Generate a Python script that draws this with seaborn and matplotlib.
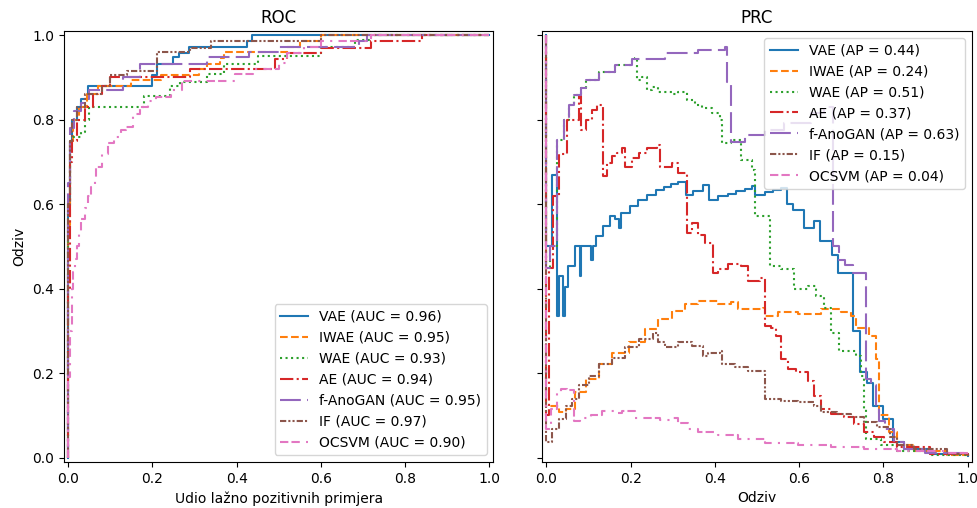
import matplotlib
matplotlib.use("Agg")
import matplotlib.pyplot as plt
import seaborn as sns
import pandas as pd

models = ["VAE", "IWAE", "WAE", "AE", "f-AnoGAN", "IF", "OCSVM"]
auc_values = [0.96, 0.95, 0.93, 0.94, 0.95, 0.97, 0.90]
ap_values = [0.44, 0.24, 0.51, 0.37, 0.63, 0.15, 0.04]

# ---------------- ROC (fpr, tpr) step breakpoints ----------------
roc_fpr_vae = [0.0, 0.0, 0.004, 0.01, 0.02, 0.03, 0.047, 0.2, 0.212, 0.248, 0.263, 0.287, 0.424, 0.436, 1.0]
roc_tpr_vae = [0.0, 0.60, 0.75, 0.80, 0.83, 0.85, 0.88, 0.906, 0.933, 0.949, 0.959, 0.972, 0.986, 1.0, 1.0]

roc_fpr_iwae = [0.0, 0.0, 0.005, 0.012, 0.025, 0.045, 0.07, 0.15, 0.22, 0.31, 0.33, 0.36, 0.37, 0.52, 0.55, 0.6, 1.0]
roc_tpr_iwae = [0.0, 0.55, 0.75, 0.80, 0.83, 0.86, 0.88, 0.894, 0.906, 0.92, 0.933, 0.946, 0.96, 0.972, 0.986, 1.0, 1.0]

roc_fpr_wae = [0.0, 0.0, 0.005, 0.01, 0.03, 0.04, 0.05, 0.18, 0.243, 0.265, 0.33, 0.37, 0.45, 0.6, 0.68, 0.72, 1.0]
roc_tpr_wae = [0.0, 0.60, 0.74, 0.76, 0.77, 0.80, 0.83, 0.856, 0.88, 0.89, 0.909, 0.933, 0.95, 0.972, 0.988, 1.0, 1.0]

roc_fpr_ae = [0.0, 0.0, 0.005, 0.01, 0.02, 0.04, 0.06, 0.08, 0.1, 0.29, 0.49, 0.52, 0.6, 0.72, 0.84, 1.0]
roc_tpr_ae = [0.0, 0.40, 0.70, 0.75, 0.80, 0.83, 0.86, 0.88, 0.90, 0.92, 0.944, 0.957, 0.97, 0.986, 1.0, 1.0]

roc_fpr_fano = [0.0, 0.0, 0.004, 0.015, 0.03, 0.05, 0.13, 0.17, 0.33, 0.43, 0.5, 0.69, 0.71, 1.0]
roc_tpr_fano = [0.0, 0.65, 0.78, 0.82, 0.84, 0.87, 0.90, 0.933, 0.949, 0.96, 0.972, 0.986, 1.0, 1.0]

roc_fpr_if = [0.0, 0.0, 0.004, 0.01, 0.02, 0.04, 0.08, 0.1, 0.14, 0.21, 0.29, 0.34, 0.6, 1.0]
roc_tpr_if = [0.0, 0.60, 0.75, 0.80, 0.83, 0.86, 0.88, 0.906, 0.915, 0.96, 0.97, 0.986, 1.0, 1.0]

roc_fpr_ocsvm = [0.0, 0.0, 0.004, 0.008, 0.012, 0.016, 0.02, 0.025, 0.031, 0.039, 0.047, 0.055, 0.063, 0.067,
                 0.08, 0.094, 0.11, 0.125, 0.137, 0.153, 0.17, 0.19, 0.208, 0.244, 0.271, 0.397, 0.44, 0.5,
                 0.52, 0.56, 0.6, 0.72, 1.0]
roc_tpr_ocsvm = [0.0, 0.19, 0.30, 0.40, 0.44, 0.47, 0.50, 0.53, 0.564, 0.59, 0.62, 0.64, 0.66, 0.689,
                 0.72, 0.744, 0.76, 0.775, 0.783, 0.813, 0.83, 0.845, 0.854, 0.87, 0.892, 0.908, 0.921, 0.935,
                 0.957, 0.972, 0.986, 1.0, 1.0]

# ---------------- PRC (recall, precision) step breakpoints ----------------
pr_rec_vae = [0.0, 0.0, 0.014, 0.026, 0.030, 0.039, 0.043, 0.052, 0.068, 0.080, 0.083, 0.107, 0.110, 0.117,
              0.134, 0.150, 0.162, 0.173, 0.178, 0.199, 0.217, 0.239, 0.260, 0.280, 0.296, 0.313, 0.331,
              0.349, 0.372, 0.386, 0.408, 0.432, 0.451, 0.471, 0.487, 0.496, 0.518, 0.538, 0.556, 0.572,
              0.585, 0.611, 0.635, 0.650, 0.677, 0.693, 0.729, 0.745, 0.761, 0.776, 0.800, 0.824, 0.849,
              0.912, 1.0]
pr_prec_vae = [1.0, 0.50, 0.67, 0.336, 0.430, 0.336, 0.403, 0.454, 0.501, 0.430, 0.501, 0.469, 0.501, 0.524,
               0.548, 0.573, 0.564, 0.544, 0.579, 0.595, 0.609, 0.623, 0.634, 0.641, 0.649, 0.652, 0.623,
               0.631, 0.646, 0.609, 0.620, 0.625, 0.631, 0.636, 0.642, 0.623, 0.628, 0.634, 0.638, 0.601,
               0.586, 0.544, 0.560, 0.513, 0.481, 0.437, 0.300, 0.202, 0.178, 0.123, 0.092, 0.037, 0.021,
               0.009, 0.005]

pr_rec_iwae = [0.0, 0.0, 0.002, 0.030, 0.046, 0.069, 0.093, 0.124, 0.156, 0.195, 0.235, 0.266, 0.298, 0.329,
               0.361, 0.408, 0.439, 0.455, 0.514, 0.518, 0.550, 0.597, 0.652, 0.699, 0.723, 0.735, 0.766,
               0.782, 0.790, 0.813, 0.833, 0.873, 0.951, 1.0]
pr_prec_iwae = [1.0, 0.123, 0.123, 0.108, 0.116, 0.155, 0.186, 0.222, 0.249, 0.273, 0.304, 0.328, 0.347, 0.363,
                0.371, 0.363, 0.369, 0.351, 0.355, 0.336, 0.346, 0.340, 0.351, 0.346, 0.336, 0.308, 0.289,
                0.233, 0.100, 0.061, 0.029, 0.017, 0.007, 0.005]

pr_rec_wae = [0.0, 0.0, 0.008, 0.026, 0.042, 0.054, 0.065, 0.081, 0.093, 0.124, 0.164, 0.203, 0.211, 0.215,
              0.227, 0.239, 0.250, 0.266, 0.298, 0.313, 0.333, 0.353, 0.369, 0.392, 0.412, 0.416, 0.439,
              0.463, 0.487, 0.495, 0.530, 0.558, 0.589, 0.621, 0.640, 0.660, 0.676, 0.695, 0.735, 0.747,
              0.754, 0.758, 0.794, 0.833, 0.912, 1.0]
pr_prec_wae = [1.0, 0.45, 0.50, 0.752, 0.800, 0.835, 0.858, 0.874, 0.894, 0.914, 0.929, 0.943, 0.945, 0.894,
               0.902, 0.870, 0.878, 0.866, 0.862, 0.866, 0.847, 0.835, 0.827, 0.815, 0.800, 0.745, 0.752,
               0.705, 0.682, 0.572, 0.454, 0.446, 0.399, 0.406, 0.383, 0.355, 0.296, 0.253, 0.241, 0.194,
               0.116, 0.045, 0.029, 0.017, 0.007, 0.005]

pr_rec_ae = [0.0, 0.0, 0.005, 0.015, 0.03, 0.05, 0.077, 0.081, 0.093, 0.109, 0.120, 0.134, 0.144, 0.156, 0.168,
             0.180, 0.187, 0.203, 0.219, 0.239, 0.262, 0.270, 0.298, 0.313, 0.333, 0.345, 0.361, 0.376, 0.396,
             0.408, 0.432, 0.463, 0.479, 0.506, 0.518, 0.534, 0.546, 0.558, 0.573, 0.593, 0.621, 0.636,
             0.652, 0.676, 0.707, 0.731, 0.754, 0.778, 0.802, 0.833, 0.912, 1.0]
pr_prec_ae = [1.0, 0.10, 0.45, 0.62, 0.72, 0.80, 0.855, 0.776, 0.800, 0.823, 0.835, 0.666, 0.697, 0.713, 0.721,
              0.733, 0.689, 0.709, 0.721, 0.733, 0.741, 0.689, 0.697, 0.674, 0.532, 0.556, 0.528, 0.509, 0.438,
              0.446, 0.458, 0.454, 0.418, 0.426, 0.312, 0.308, 0.289, 0.233, 0.210, 0.202, 0.182, 0.147,
              0.116, 0.104, 0.096, 0.080, 0.061, 0.049, 0.037, 0.025, 0.009, 0.005]

pr_rec_fano = [0.0, 0.0, 0.008, 0.026, 0.042, 0.054, 0.065, 0.081, 0.093, 0.124, 0.164, 0.203, 0.282, 0.361,
               0.425, 0.428, 0.438, 0.471, 0.518, 0.565, 0.628, 0.66, 0.68, 0.695, 0.71, 0.727, 0.758, 0.770,
               0.782, 0.790, 0.805, 0.825, 0.85, 0.9, 1.0]
pr_prec_fano = [1.0, 0.45, 0.50, 0.752, 0.800, 0.835, 0.858, 0.874, 0.894, 0.914, 0.929, 0.943, 0.957, 0.965,
                0.971, 0.890, 0.748, 0.764, 0.776, 0.792, 0.815, 0.83, 0.501, 0.469, 0.455, 0.438, 0.186,
                0.171, 0.123, 0.087, 0.069, 0.037, 0.020, 0.012, 0.005]

pr_rec_if = [0.0, 0.0, 0.002, 0.014, 0.030, 0.046, 0.061, 0.077, 0.101, 0.124, 0.156, 0.187, 0.219, 0.254,
             0.266, 0.282, 0.313, 0.345, 0.372, 0.384, 0.412, 0.416, 0.447, 0.479, 0.518, 0.558, 0.597,
             0.636, 0.652, 0.691, 0.723, 0.754, 0.786, 0.817, 0.833, 0.873, 0.951, 1.0]
pr_prec_if = [1.0, 0.037, 0.037, 0.068, 0.092, 0.123, 0.139, 0.171, 0.194, 0.222, 0.237, 0.261, 0.281, 0.296,
              0.273, 0.261, 0.273, 0.265, 0.241, 0.249, 0.253, 0.222, 0.214, 0.206, 0.139, 0.135, 0.131,
              0.123, 0.108, 0.104, 0.096, 0.084, 0.072, 0.049, 0.029, 0.021, 0.009, 0.005]

pr_rec_ocsvm = [0.0, 0.0, 0.012, 0.024, 0.035, 0.05, 0.065, 0.08, 0.105, 0.132, 0.16, 0.18, 0.211, 0.24, 0.27,
                0.298, 0.313, 0.337, 0.36, 0.408, 0.455, 0.518, 0.597, 0.676, 0.754, 0.833, 0.951, 1.0]
pr_prec_ocsvm = [1.0, 0.068, 0.115, 0.154, 0.162, 0.160, 0.087, 0.094, 0.102, 0.110, 0.106, 0.110, 0.094,
                 0.094, 0.090, 0.094, 0.083, 0.068, 0.060, 0.053, 0.045, 0.036, 0.030, 0.025, 0.020, 0.016,
                 0.012, 0.005]

roc_data = [(roc_fpr_vae, roc_tpr_vae), (roc_fpr_iwae, roc_tpr_iwae), (roc_fpr_wae, roc_tpr_wae),
            (roc_fpr_ae, roc_tpr_ae), (roc_fpr_fano, roc_tpr_fano), (roc_fpr_if, roc_tpr_if),
            (roc_fpr_ocsvm, roc_tpr_ocsvm)]
pr_data = [(pr_rec_vae, pr_prec_vae), (pr_rec_iwae, pr_prec_iwae), (pr_rec_wae, pr_prec_wae),
           (pr_rec_ae, pr_prec_ae), (pr_rec_fano, pr_prec_fano), (pr_rec_if, pr_prec_if),
           (pr_rec_ocsvm, pr_prec_ocsvm)]

colors = sns.color_palette("tab10", 7)
linestyles = ["-", "--", ":", "-.", (0, (10, 3)), (0, (3, 1, 1, 1, 1, 1)), (0, (4, 1.5, 4, 3, 1, 3))]

fig, (ax1, ax2) = plt.subplots(1, 2, sharey=True, figsize=(9.78, 5.08), dpi=100)
fig.subplots_adjust(left=0.0654, right=0.9936, bottom=0.0906, top=0.939, wspace=0.1135)

for i, name in enumerate(models):
    fx, ty = roc_data[i]
    df = pd.DataFrame({"x": fx, "y": ty})
    sns.lineplot(data=df, x="x", y="y", ax=ax1, estimator=None, sort=False,
                 drawstyle="steps-post", color=colors[i], linestyle=linestyles[i],
                 linewidth=1.5, label=f"{name} (AUC = {auc_values[i]:.2f})")
    rx, py = pr_data[i]
    df2 = pd.DataFrame({"x": rx, "y": py})
    sns.lineplot(data=df2, x="x", y="y", ax=ax2, estimator=None, sort=False,
                 drawstyle="steps-post", color=colors[i], linestyle=linestyles[i],
                 linewidth=1.5, label=f"{name} (AP = {ap_values[i]:.2f})")

for ax in (ax1, ax2):
    ax.set_xlim(-0.01, 1.01)
    ax.set_ylim(-0.01, 1.01)
    ax.set_xticks([0.0, 0.2, 0.4, 0.6, 0.8, 1.0])
    ax.set_yticks([0.0, 0.2, 0.4, 0.6, 0.8, 1.0])

ax1.set_title("ROC")
ax1.set_xlabel("Udio lažno pozitivnih primjera")
ax1.set_ylabel("Odziv")
ax1.legend(loc="lower right")

ax2.set_title("PRC")
ax2.set_xlabel("Odziv")
ax2.set_ylabel("Preciznost")
ax2.legend(loc="upper right")

fig.savefig("out.png", dpi=100)
